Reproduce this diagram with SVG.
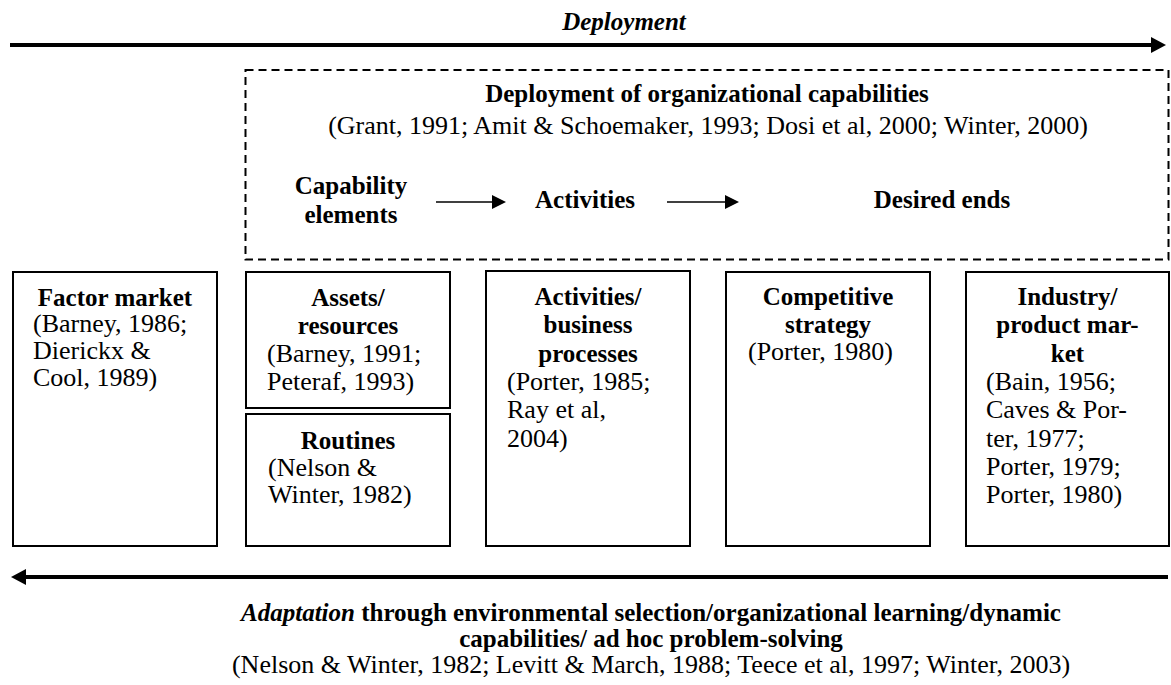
<svg xmlns="http://www.w3.org/2000/svg" width="1171" height="685" viewBox="0 0 1171 685" font-family="Liberation Serif, DejaVu Serif, serif">
<style>
  .box { fill: #ffffff; stroke: #000000; stroke-width: 2; }
  .dash { fill: none; stroke: #000000; stroke-width: 2; stroke-dasharray: 8 5; }
  text { font-family: 'Liberation Serif', 'DejaVu Serif', serif; fill: #000000; }
  .h { font-weight: bold; font-size: 25px; text-anchor: middle; }
  .c { font-size: 26px; }
  .cm { font-size: 26px; text-anchor: middle; }
  .it { font-style: italic; }
  .big { stroke: #000000; stroke-width: 4; fill: none; }
  .small { stroke: #000000; stroke-width: 1.6; fill: none; }
</style>
<defs>
  <marker id="bighead" markerUnits="userSpaceOnUse" markerWidth="16" markerHeight="16" refX="0" refY="8" orient="auto">
    <path d="M0,0 L15,8 L0,16 z" fill="#000000"/>
  </marker>
  <marker id="smallhead" markerUnits="userSpaceOnUse" markerWidth="15" markerHeight="14" refX="0" refY="7" orient="auto">
    <path d="M0,0 L14,7 L0,14 z" fill="#000000"/>
  </marker>
</defs>
<rect width="1171" height="685" fill="#ffffff"/>

<g id="connectors">
  <line class="big" x1="10" y1="45" x2="1151" y2="45" marker-end="url(#bighead)"/>
  <line class="big" x1="1168" y1="577" x2="26" y2="577" marker-end="url(#bighead)"/>
  <line class="small" x1="436" y1="202" x2="492" y2="202" marker-end="url(#smallhead)"/>
  <line class="small" x1="667" y1="202" x2="725" y2="202" marker-end="url(#smallhead)"/>
</g>

<g id="deployment-label">
  <text class="h it" x="624" y="30">Deployment</text>
</g>

<g id="deployment-capabilities">
  <rect class="dash" x="245.5" y="70" width="923" height="189.5"/>
  <text class="h" x="707" y="102">Deployment of organizational capabilities</text>
  <text class="cm" x="708" y="134">(Grant, 1991; Amit &amp; Schoemaker, 1993; Dosi et al, 2000; Winter, 2000)</text>
  <g id="capability-elements">
    <text class="h" x="351" y="194">Capability</text>
    <text class="h" x="351" y="223">elements</text>
  </g>
  <g id="activities">
    <text class="h" x="585" y="208">Activities</text>
  </g>
  <g id="desired-ends">
    <text class="h" x="942" y="208">Desired ends</text>
  </g>
</g>

<g id="factor-market">
  <rect class="box" x="13" y="272" width="204" height="274"/>
  <text class="h" x="115" y="306">Factor market</text>
  <text class="c" x="33" y="332">(Barney, 1986;</text>
  <text class="c" x="33" y="359">Dierickx &amp;</text>
  <text class="c" x="33" y="386">Cool, 1989)</text>
</g>

<g id="assets-resources">
  <rect class="box" x="246" y="272" width="204" height="136"/>
  <text class="h" x="348" y="306">Assets/</text>
  <text class="h" x="348" y="334">resources</text>
  <text class="c" x="267" y="362">(Barney, 1991;</text>
  <text class="c" x="267" y="390">Peteraf, 1993)</text>
</g>

<g id="routines">
  <rect class="box" x="246" y="414" width="204" height="132"/>
  <text class="h" x="348" y="449">Routines</text>
  <text class="c" x="268" y="476">(Nelson &amp;</text>
  <text class="c" x="268" y="503">Winter, 1982)</text>
</g>

<g id="activities-business-processes">
  <rect class="box" x="486" y="271" width="204" height="275"/>
  <text class="h" x="588" y="305">Activities/</text>
  <text class="h" x="588" y="333">business</text>
  <text class="h" x="588" y="362">processes</text>
  <text class="c" x="507" y="390">(Porter, 1985;</text>
  <text class="c" x="507" y="418">Ray et al,</text>
  <text class="c" x="507" y="447">2004)</text>
</g>

<g id="competitive-strategy">
  <rect class="box" x="726" y="272" width="204" height="274"/>
  <text class="h" x="828" y="305">Competitive</text>
  <text class="h" x="828" y="333">strategy</text>
  <text class="c" x="748" y="360">(Porter, 1980)</text>
</g>

<g id="industry-product-market">
  <rect class="box" x="966" y="272" width="203" height="274"/>
  <text class="h" x="1067.5" y="305">Industry/</text>
  <text class="h" x="1067.5" y="333">product mar-</text>
  <text class="h" x="1067.5" y="362">ket</text>
  <text class="c" x="986" y="390">(Bain, 1956;</text>
  <text class="c" x="986" y="418">Caves &amp; Por-</text>
  <text class="c" x="986" y="447">ter, 1977;</text>
  <text class="c" x="986" y="475">Porter, 1979;</text>
  <text class="c" x="986" y="503">Porter, 1980)</text>
</g>

<g id="adaptation-label">
  <text class="h" x="651" y="621"><tspan font-style="italic">Adaptation</tspan> through environmental selection/organizational learning/dynamic</text>
  <text class="h" x="651" y="647">capabilities/ ad hoc problem-solving</text>
  <text class="cm" x="651" y="673">(Nelson &amp; Winter, 1982; Levitt &amp; March, 1988; Teece et al, 1997; Winter, 2003)</text>
</g>
</svg>
